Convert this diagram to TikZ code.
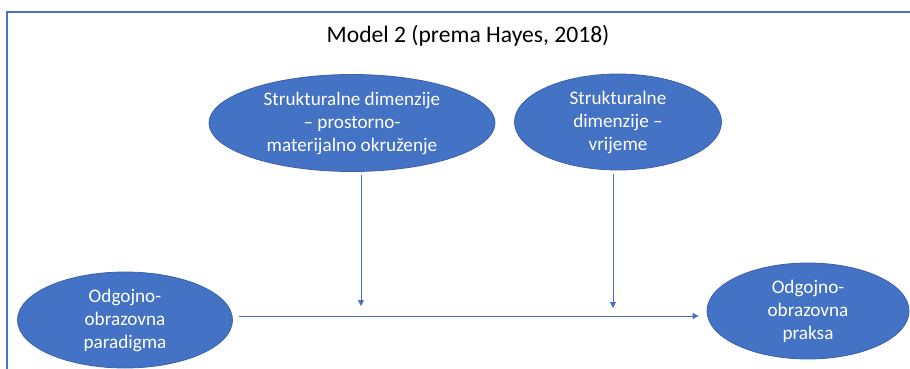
\documentclass[tikz,border=0pt]{standalone}
\usepackage{fontspec}
\setmainfont{Carlito}
\usetikzlibrary{shapes.geometric,arrows.meta}
\definecolor{obl}{HTML}{4472C4}
\definecolor{obd}{HTML}{3A62AC}
\tikzset{
  oval/.style={ellipse, fill=obl, draw=obd, line width=0.8pt, inner sep=0pt,
    text=white, align=center, font=\fontsize{19.2}{23}\selectfont},
  arr/.style={draw=obl, line width=0.9pt, -{Triangle[length=6pt,width=6pt]}},
  frame/.style={draw=obl, line width=1.6pt}
}
\begin{document}
\begin{tikzpicture}[x=1pt,y=-1pt]
\useasboundingbox (0,0) rectangle (910,369);
\clip (0,0) rectangle (910,369);
\draw[frame] (7,12) rectangle (930,390);
\node[font=\fontsize{23.6}{28}\selectfont] (title) at (468,36) {Model 2 (prema Hayes, 2018)};
\node[oval, minimum width=286, minimum height=97] (t1) at (352,123) {Strukturalne dimenzije\\– prostorno-\\materijalno okruženje};
\node[oval, minimum width=207, minimum height=96] (t2) at (618,122) {Strukturalne\\dimenzije –\\vrijeme};
\node[oval, minimum width=215, minimum height=96] (pa) at (125,320) {Odgojno-\\obrazovna\\paradigma};
\node[oval, minimum width=202, minimum height=96] (pr) at (808,311) {Odgojno-\\obrazovna\\praksa};
\coordinate (v1) at (361,306);
\coordinate (v2) at (613,308);
\draw[arr] ([yshift=-3pt]v1 |- t1.south) -- (v1);
\draw[arr] ([yshift=-4pt]v2 |- t2.south) -- (v2);
\draw[arr] ([xshift=6pt,yshift=4pt]pa.east) -- ([xshift=-8pt,yshift=-5pt]pr.west);
\end{tikzpicture}
\end{document}
